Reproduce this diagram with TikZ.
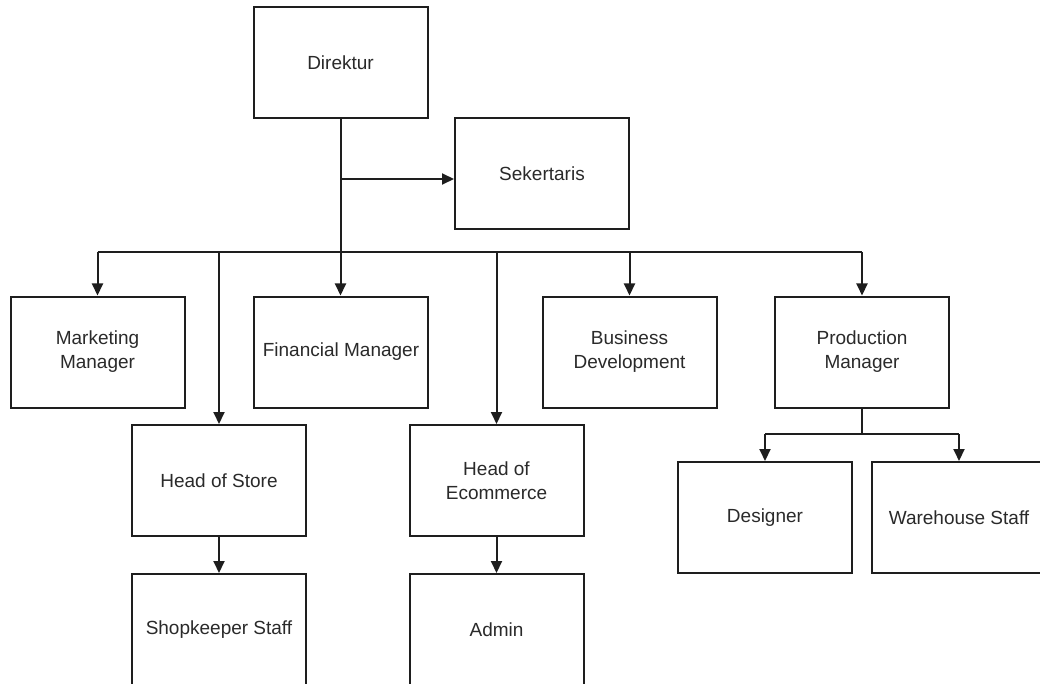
\documentclass[tikz,border=0pt]{standalone}
\usepackage{fontspec}
\setmainfont{Liberation Sans}
\usetikzlibrary{arrows.meta}
\definecolor{ln}{HTML}{1E1E1E}
\definecolor{tx}{HTML}{2A2A2A}
\tikzset{
  box/.style={draw=ln, line width=2pt, rectangle, minimum width=174pt, minimum height=111pt,
    inner sep=2pt, align=center, text=tx, font=\fontsize{19}{24}\selectfont},
  conn/.style={draw=ln, line width=2pt},
  arr/.style={conn, -{Triangle[length=12pt,width=11pt]}}
}
\begin{document}
\begin{tikzpicture}[x=1pt,y=-1pt]
\useasboundingbox (0,0) rectangle (1040,684);
\fill[white] (0,0) rectangle (1040,684);
\node[box] (dir) at (340.5,62.5) {Direktur};
\node[box] (sek) at (542,174) {Sekertaris};
\node[box] (mkt) at (97.5,352) {Marketing\\Manager};
\node[box] (fin) at (341,352) {Financial Manager};
\node[box] (bus) at (629.5,352) {Business\\Development};
\node[box] (prod) at (862,352) {Production\\Manager};
\node[box] (hs) at (219,480.5) {Head of Store};
\node[box] (he) at (496.5,480.5) {Head of\\Ecommerce};
\node[box] (shop) at (219,629.5) {Shopkeeper Staff};
\node[box] (adm) at (496.5,629.5) {Admin};
\node[box] (des) at (765,517.5) {Designer};
\node[box] (war) at (959,517.5) {Warehouse Staff};
\coordinate (busy) at (341,252);
\coordinate (prody) at (862,434);
\coordinate (sekin) at ([yshift=-5pt]sek.west);
% main trunk
\draw[arr] (dir.south) -- (dir.south |- fin.north);
\draw[arr] (dir.south |- sekin) -- (sekin);
% bus
\draw[conn] (mkt.north |- busy) -- (prod.north |- busy);
\draw[arr] (mkt.north |- busy) -- (mkt.north);
\draw[arr] (hs.north |- busy) -- (hs.north);
\draw[arr] (he.north |- busy) -- (he.north);
\draw[arr] (bus.north |- busy) -- (bus.north);
\draw[arr] (prod.north |- busy) -- (prod.north);
% sub levels
\draw[arr] (hs.south) -- (shop.north);
\draw[arr] (he.south) -- (adm.north);
\draw[conn] (prod.south) -- (prody);
\draw[conn] (des.north |- prody) -- (war.north |- prody);
\draw[arr] (des.north |- prody) -- (des.north);
\draw[arr] (war.north |- prody) -- (war.north);
\end{tikzpicture}
\end{document}
